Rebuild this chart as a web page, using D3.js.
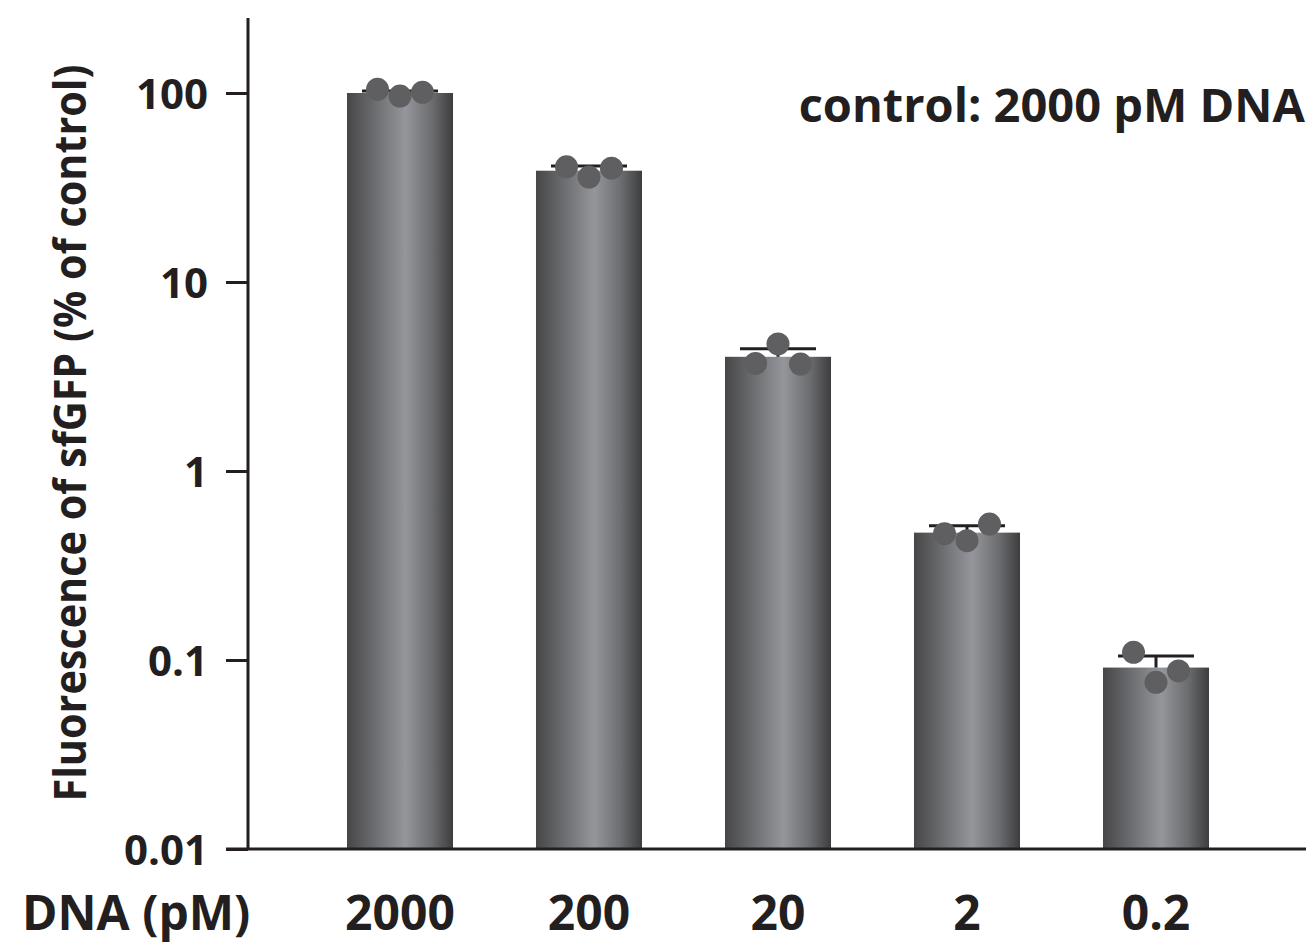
<!DOCTYPE html>
<html>
<head>
<meta charset="utf-8">
<script src="https://cdn.jsdelivr.net/npm/d3@7"></script>
<style>
  html, body { margin: 0; padding: 0; background: #fff; }
  svg { display: block; }
  text { font-family: "Open Sans", "Noto Sans", sans-serif; font-weight: 700; fill: #231f20; }
</style>
</head>
<body>
<svg id="chart" width="1306" height="943"></svg>
<script>
// DNA template concentrations (pM)
const categories = ["2000", "200", "20", "2", "0.2"];
// Mean sfGFP fluorescence, % of the 2000 pM control
const means = [100, 38.8, 4.02, 0.472, 0.0912];
// Upper error bar ends
const errorTops = [102.5, 41.1, 4.44, 0.514, 0.105];
// Individual replicate measurements (three per concentration)
const replicates = [
  [104.6, 96.4, 100.9],
  [40.7, 35.9, 40.0],
  [3.71, 4.70, 3.68],
  [0.466, 0.428, 0.524],
  [0.1098, 0.0762, 0.0875]
];
const yTicks = [0.01, 0.1, 1, 10, 100];
const yTickLabels = ["0.01", "0.1", "1", "10", "100"];
const yTitle = "Fluorescence of sfGFP (% of control)";
const xTitle = "DNA (pM)";
const note = "control: 2000 pM DNA";

const svg = d3.select("#chart");
const ink = "#231f20";

const yBase = 849, axisX = 248;
const y = d3.scaleLog().domain([0.01, 100]).range([yBase, 93]);
const x = d3.scaleBand().domain(categories).range([305.5, 1250.5])
  .paddingInner(0.439).paddingOuter(0.2195);
const rep = d3.scalePoint().domain([0, 1, 2]).range([-22.5, 22.5]);

// Bar shading: dark edges with a light band just right of centre
const defs = svg.append("defs");
const grad = defs.append("linearGradient").attr("id", "barShade")
  .attr("x1", "0%").attr("x2", "100%").attr("y1", "0%").attr("y2", "0%");
[[0, "#464648"], [0.25, "#6a6b6e"], [0.55, "#95969b"], [0.8, "#6c6d70"], [1, "#3d3d3f"]]
  .forEach(([o, c]) => grad.append("stop").attr("offset", o).attr("stop-color", c));

// Bars
svg.append("g").selectAll("rect").data(categories).join("rect")
  .attr("x", d => x(d))
  .attr("width", x.bandwidth())
  .attr("y", (d, i) => y(means[i]))
  .attr("height", (d, i) => yBase - y(means[i]))
  .attr("fill", "url(#barShade)");

// Upper error bars
const eb = svg.append("g").attr("stroke", ink).attr("stroke-width", 3);
categories.forEach((c, i) => {
  const cx = x(c) + x.bandwidth() / 2;
  eb.append("line").attr("x1", cx).attr("x2", cx)
    .attr("y1", y(means[i])).attr("y2", y(errorTops[i]));
  eb.append("line").attr("x1", cx - 38).attr("x2", cx + 38)
    .attr("y1", y(errorTops[i])).attr("y2", y(errorTops[i]));
});

// Replicate points
const dots = svg.append("g").attr("fill", "#5f5f61");
categories.forEach((c, i) => {
  const cx = x(c) + x.bandwidth() / 2;
  replicates[i].forEach((v, j) => {
    dots.append("circle").attr("cx", cx + rep(j)).attr("cy", y(v)).attr("r", 11.5);
  });
});

// Axes
svg.append("line").attr("x1", axisX).attr("x2", axisX).attr("y1", 18).attr("y2", yBase)
  .attr("stroke", ink).attr("stroke-width", 3);
svg.append("line").attr("x1", 226).attr("x2", 1306).attr("y1", yBase).attr("y2", yBase)
  .attr("stroke", ink).attr("stroke-width", 3);

const yAxis = svg.append("g").attr("transform", `translate(${axisX},0)`)
  .call(d3.axisLeft(y).tickValues(yTicks).tickSize(22).tickPadding(18)
    .tickFormat((d, i) => yTickLabels[i]));
yAxis.select(".domain").remove();
yAxis.selectAll(".tick line").attr("stroke", ink).attr("stroke-width", 3);
yAxis.selectAll(".tick text").attr("font-size", 42).attr("fill", ink)
  .attr("font-family", "'Open Sans', sans-serif").attr("font-weight", 700)
  .attr("dy", "0.36em");

// Category labels
svg.append("g").selectAll("text").data(categories).join("text")
  .attr("x", d => x(d) + x.bandwidth() / 2)
  .attr("y", 930)
  .attr("text-anchor", "middle")
  .attr("font-size", 48)
  .text(d => d);

svg.append("text").attr("x", 22).attr("y", 930).attr("font-size", 48).text(xTitle);

svg.append("text")
  .attr("transform", "translate(86,433) rotate(-90)")
  .attr("text-anchor", "middle")
  .attr("font-size", 45)
  .attr("textLength", 737)
  .attr("lengthAdjust", "spacingAndGlyphs")
  .text(yTitle);

svg.append("text").attr("x", 1305).attr("y", 122).attr("text-anchor", "end")
  .attr("font-size", 47).text(note);
</script>
</body>
</html>
